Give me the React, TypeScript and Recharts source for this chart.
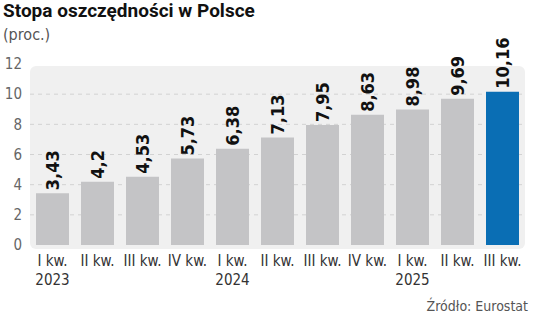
import React from "react";
import { BarChart, Bar, XAxis, YAxis, CartesianGrid, Cell, LabelList } from "recharts";

const quarters = ["I kw.", "II kw.", "III kw.", "IV kw.", "I kw.", "II kw.", "III kw.", "IV kw.", "I kw.", "II kw.", "III kw."];
const years = ["2023", "", "", "", "2024", "", "", "", "2025", "", ""];
const values = [3.43, 4.2, 4.53, 5.73, 6.38, 7.13, 7.95, 8.63, 8.98, 9.69, 10.16];
const yTicks = [0, 2, 4, 6, 8, 10, 12];
const gridValues = [2, 4, 6, 8, 10];

const data = quarters.map((q, i) => ({ key: i, q, year: years[i], value: values[i] }));

const GRAY = "#c4c4c6";
const BLUE = "#0a6eb4";
const TICK_FONT = "'Liberation Sans Narrow', 'DejaVu Sans Condensed', sans-serif";

const XTick = (props: any) => {
  const { x, y, payload } = props;
  const d = data[payload.value];
  return (
    <text x={x} y={y} textAnchor="middle" fill="#333" fontSize={15} fontFamily={TICK_FONT}>
      <tspan x={x} dy={21}>{d.q}</tspan>
      {d.year ? <tspan x={x} dy={19}>{d.year}</tspan> : null}
    </text>
  );
};

const ValueLabel = (props: any) => {
  const { x, y, width, value } = props;
  const cx = x + width / 2;
  const ty = y - 3;
  return (
    <text
      x={cx}
      y={ty}
      transform={`rotate(-90 ${cx} ${ty})`}
      textAnchor="start"
      dominantBaseline="central"
      fontSize={18}
      fontWeight="bold"
      fill="#111"
      fontFamily="'DejaVu Sans Condensed', sans-serif"
    >
      {String(value).replace(".", ",")}
    </text>
  );
};

export default function App() {
  return (
    <div style={{ position: "absolute", left: 0, top: 0, width: 536, height: 317, background: "#fff", overflow: "hidden" }}>
      <div style={{ position: "absolute", left: 3, top: 0, fontFamily: "Roboto, sans-serif", fontWeight: 700, fontSize: 19, color: "#111", whiteSpace: "nowrap", lineHeight: "22px" }}>
        Stopa oszczędności w Polsce
      </div>
      <div style={{ position: "absolute", left: 3, top: 25, fontFamily: TICK_FONT, fontSize: 16, color: "#555", lineHeight: "20px" }}>
        (proc.)
      </div>
      <div style={{ position: "absolute", left: 30, top: 66, width: 495, height: 183, background: "#f0f0f0", borderRadius: 6 }} />
      <div style={{ position: "absolute", left: 0, top: 0 }}>
        <BarChart width={536} height={317} data={data} margin={{ top: 64, right: 11, bottom: 32, left: 0 }} barSize={33}>
          <CartesianGrid horizontal vertical={false} horizontalValues={gridValues} stroke="#d2d2d2" strokeDasharray="4 4" />
          <XAxis dataKey="key" axisLine={false} tickLine={false} tickSize={0} tickMargin={0} interval={0} height={40} tick={<XTick />} />
          <YAxis
            domain={[0, 12]}
            ticks={yTicks}
            width={30}
            axisLine={false}
            tickLine={false}
            tickSize={0}
            tickMargin={8}
            tick={{ fill: "#666", fontSize: 15, fontFamily: TICK_FONT }}
          />
          <Bar dataKey="value" isAnimationActive={false}>
            {data.map((d, i) => (
              <Cell key={i} fill={i === data.length - 1 ? BLUE : GRAY} />
            ))}
            <LabelList dataKey="value" content={<ValueLabel />} />
          </Bar>
        </BarChart>
      </div>
      <div style={{ position: "absolute", right: 8, top: 298, fontFamily: TICK_FONT, fontSize: 14, color: "#555", whiteSpace: "nowrap" }}>
        Źródło: Eurostat
      </div>
    </div>
  );
}
